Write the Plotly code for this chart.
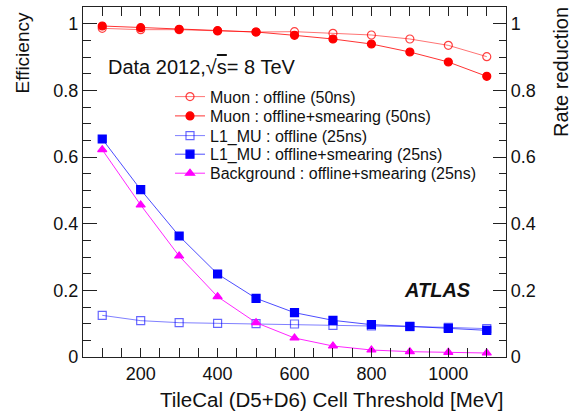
import plotly.graph_objects as go

thresholds = [100, 200, 300, 400, 500, 600, 700, 800, 900, 1000, 1100]
muon_offline = [0.986, 0.982, 0.982, 0.978, 0.975, 0.976, 0.971, 0.966, 0.954, 0.935, 0.901]
muon_smear = [0.993, 0.988, 0.983, 0.979, 0.975, 0.965, 0.954, 0.939, 0.915, 0.885, 0.842]
l1_offline = [0.125, 0.109, 0.103, 0.101, 0.100, 0.099, 0.095, 0.093, 0.091, 0.089, 0.085]
l1_smear = [0.654, 0.502, 0.363, 0.249, 0.176, 0.133, 0.110, 0.097, 0.092, 0.086, 0.080]
bkg_smear = [0.622, 0.456, 0.303, 0.181, 0.103, 0.057, 0.033, 0.021, 0.016, 0.014, 0.012]

names = [
    "Muon : offline (50ns)",
    "Muon : offline+smearing (50ns)",
    "L1_MU : offline (25ns)",
    "L1_MU : offline+smearing (25ns)",
    "Background : offline+smearing (25ns)",
]
x_ticks = [200, 400, 600, 800, 1000]
y_ticks = [0, 0.2, 0.4, 0.6, 0.8, 1.0]
y_ticktext = ["0", "0.2", "0.4", "0.6", "0.8", "1"]

FONT = "Liberation Sans, Arial, sans-serif"
W, H = 571, 416
ML, MR, MT, MB = 83, 65, 7, 59
PW, PH = W - ML - MR, H - MT - MB


def px_to_paper(px, py):
    return (px - ML) / PW, (H - MB - py) / PH


fig = go.Figure()

specs = [
    (muon_offline, "circle-open", 8, "rgba(255,0,0,0.75)", "rgba(255,0,0,0.55)", "y"),
    (l1_offline, "square-open", 8, "rgba(0,0,255,0.6)", "rgba(0,0,255,0.5)", "y"),
    (muon_smear, "circle", 8, "rgb(255,0,0)", "rgba(255,0,0,0.8)", "y"),
    (l1_smear, "square", 8, "rgb(0,0,255)", "rgba(0,0,255,0.7)", "y"),
    (bkg_smear, "triangle-up", 8, "rgb(255,0,255)", "rgba(255,0,255,0.85)", "y2"),
]
legend_ids = ["legend", "legend3", "legend2", "legend4", "legend5"]
name_order = [names[0], names[2], names[1], names[3], names[4]]

for (vals, sym, sz, mcol, lcol, yax), lid, nm in zip(specs, legend_ids, name_order):
    fig.add_trace(go.Scatter(
        x=thresholds, y=vals, mode="lines+markers", name=nm,
        line=dict(color=lcol, width=1),
        marker=dict(symbol=sym, size=sz, color=mcol, line=dict(color=mcol, width=1.2)),
        yaxis=yax, legend=lid,
    ))

legend_y_px = [96.7, 116, 135.7, 154.3, 173.3]
legend_keys = ["legend", "legend2", "legend3", "legend4", "legend5"]
legend_layout = {}
for key, ypx in zip(legend_keys, legend_y_px):
    lx, ly = px_to_paper(170, ypx)
    legend_layout[key] = dict(
        x=lx, y=ly, xanchor="left", yanchor="middle",
        bgcolor="rgba(0,0,0,0)", borderwidth=0,
        font=dict(family=FONT, size=16, color="#111"),
        itemwidth=30, tracegroupgap=0,
    )

axis_line = dict(showline=True, linecolor="#222", linewidth=1.3)

fig.update_layout(
    width=W, height=H,
    margin=dict(l=ML, r=MR, t=MT, b=MB, autoexpand=False),
    paper_bgcolor="white", plot_bgcolor="white",
    font=dict(family=FONT, size=18, color="#111"),
    showlegend=True,
    xaxis=dict(
        range=[50, 1150], tickvals=x_ticks, ticks="inside", ticklen=9, tickwidth=1,
        tickcolor="#222", mirror="allticks", showgrid=False, zeroline=False,
        tickfont=dict(family=FONT, size=18, color="#111"),
        minor=dict(dtick=50, tick0=0, ticks="inside", ticklen=5, tickcolor="#222", showgrid=False),
        **axis_line,
    ),
    yaxis=dict(
        range=[0, 1.05], tickvals=y_ticks, ticktext=y_ticktext, ticks="inside",
        ticklen=14, tickwidth=1, tickcolor="#222", mirror=True, showgrid=False,
        zeroline=False, tickfont=dict(family=FONT, size=18, color="#111"),
        minor=dict(dtick=0.05, tick0=0, ticks="inside", ticklen=8, tickcolor="#222", showgrid=False),
        **axis_line,
    ),
    yaxis2=dict(
        range=[0, 1.05], overlaying="y", side="right", tickvals=y_ticks,
        ticktext=y_ticktext, ticks="inside", ticklen=13, tickwidth=1, tickcolor="#222",
        showgrid=False, zeroline=False, tickfont=dict(family=FONT, size=18, color="#111"),
        minor=dict(dtick=0.05, tick0=0, ticks="inside", ticklen=7, tickcolor="#222", showgrid=False),
        **axis_line,
    ),
    **legend_layout,
)

ax, ay = px_to_paper(22, 10)
fig.add_annotation(text="Efficiency", x=ax, y=ay, xref="paper", yref="paper",
                   xanchor="center", yanchor="top", textangle=-90, showarrow=False,
                   font=dict(family=FONT, size=19, color="#111"))
ax, ay = px_to_paper(561, 5)
fig.add_annotation(text="Rate reduction", x=ax, y=ay, xref="paper", yref="paper",
                   xanchor="center", yanchor="top", textangle=-90, showarrow=False,
                   font=dict(family=FONT, size=20, color="#111"))
ax, ay = px_to_paper(506, 399)
fig.add_annotation(text="TileCal (D5+D6) Cell Threshold [MeV]", x=ax, y=ay,
                   xref="paper", yref="paper", xanchor="right", yanchor="middle",
                   showarrow=False, font=dict(family=FONT, size=20.5, color="#111"))
ax, ay = px_to_paper(106, 66.7)
fig.add_annotation(text="Data 2012,√<span style='text-decoration:overline'>s</span>= 8 TeV",
                   x=ax, y=ay, xref="paper", yref="paper", xanchor="left", yanchor="middle",
                   showarrow=False, font=dict(family=FONT, size=20, color="#111"))
ax, ay = px_to_paper(473, 290)
fig.add_annotation(text="<b><i>ATLAS</i></b>", x=ax, y=ay, xref="paper", yref="paper",
                   xanchor="right", yanchor="middle", showarrow=False,
                   font=dict(family=FONT, size=20, color="#111"))

fig.write_html("out.html", config={"displayModeBar": False},
               post_script="document.body.style.margin='0';")
